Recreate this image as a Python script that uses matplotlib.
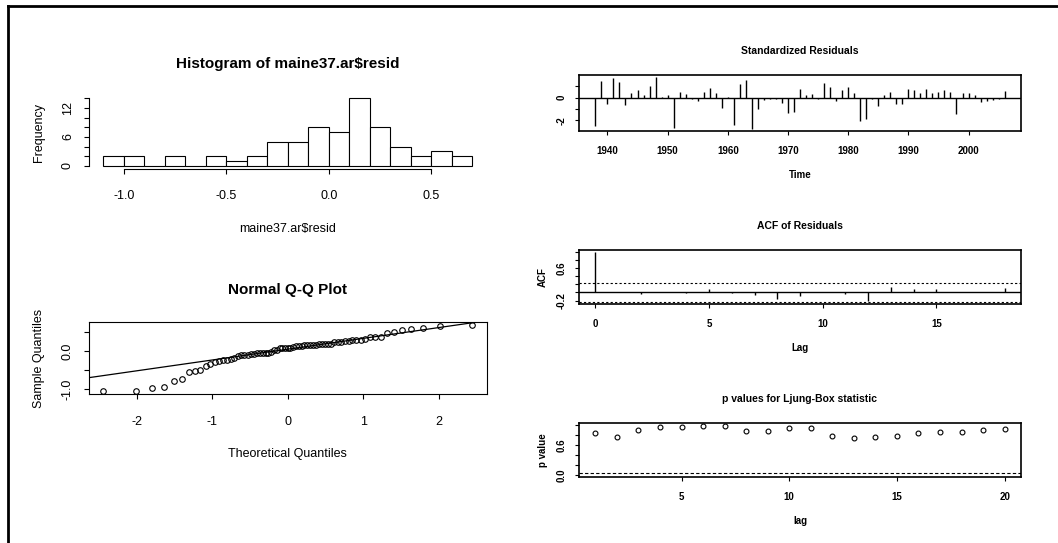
#%% Import libraries
import numpy as np
import matplotlib.pyplot as plt
from matplotlib.lines import Line2D
from statistics import NormalDist

#%% Data
years = np.arange(1938, 2007)
# AR residuals of maine37 in time order (1938..2006)
resid = [-0.95, 0.57, -0.21, 0.65, 0.54, -0.25, 0.16, 0.25, 0.08, 0.38,
         0.69, 0.02, 0.09, -1.03, 0.19, 0.13, -0.06, -0.11, 0.19, 0.32,
         0.15, -0.34, 0.03, -0.93, 0.47, 0.59, -1.05, -0.38, -0.08, -0.03,
         -0.04, -0.17, -0.51, -0.49, 0.28, 0.08, 0.12, -0.06, 0.49, 0.37,
         -0.11, 0.24, 0.36, 0.15, -0.78, -0.72, -0.04, -0.28, 0.09, 0.19,
         -0.23, -0.22, 0.29, 0.27, 0.17, 0.28, 0.14, 0.19, 0.26, 0.18,
         -0.55, 0.14, 0.17, 0.08, -0.14, -0.11, -0.08, -0.06, 0.23]
sigma = 0.38  # residual standard deviation used by tsdiag

hist_breaks = np.linspace(-1.1, 0.7, 19)

acf_lags = np.arange(0, 19)
acf_vals = [1.0, 0.01, -0.05, 0.0, -0.02, 0.08, -0.01, -0.06, -0.16, -0.10,
            0.02, -0.05, -0.20, 0.14, 0.08, 0.08, 0.02, 0.0, 0.10]

lb_lags = np.arange(1, 21)
lb_pvals = [0.84, 0.76, 0.90, 0.96, 0.96, 0.99, 0.99, 0.89, 0.89, 0.94,
            0.94, 0.79, 0.74, 0.76, 0.79, 0.84, 0.87, 0.87, 0.90, 0.92]

#%% Helpers
W, H = 1058, 543
def box(l, t, r, b): # pixel box -> figure fraction
    return [l / W, 1 - b / H, (r - l) / W, (b - t) / H]

def rlim(lo, hi): # R style 4% axis expansion
    d = (hi - lo) * 0.04
    return lo - d, hi + d

plt.rcParams['font.family'] = ['Liberation Sans', 'DejaVu Sans']
plt.rcParams['axes.unicode_minus'] = False # R prints a plain hyphen
fig = plt.figure(figsize=(W / 100, H / 100), dpi=100)

# outer frame of the scanned page
fig.add_artist(Line2D([8 / W, 8 / W], [0, 1 - 6 / H], color='black', lw=2, transform=fig.transFigure))
fig.add_artist(Line2D([8 / W, 1], [1 - 6 / H, 1 - 6 / H], color='black', lw=2, transform=fig.transFigure))

left_tick = dict(length=3.6, width=0.8, labelsize=9)
right_tick = dict(length=3, width=0.8, labelsize=7)

#%% Histogram
ax1 = fig.add_axes(box(88.7, 95.6, 486.8, 168.7))
ax1.hist(resid, bins=hist_breaks, color='white', edgecolor='black', lw=0.8)
ax1.set_xlim(rlim(-1.1, 0.7))
ax1.set_ylim(rlim(0, 14))
for s in ['top', 'right']:
    ax1.spines[s].set_visible(False)
ax1.spines['left'].set_bounds(0, 14)
ax1.spines['bottom'].set_bounds(-1.0, 0.5)
ax1.set_xticks([-1.0, -0.5, 0.0, 0.5], ['-1.0', '-0.5', '0.0', '0.5'])
ax1.set_yticks(np.arange(0, 15, 2), ['0', '', '', '6', '', '', '12', ''])
ax1.tick_params(axis='x', pad=12, **left_tick)
ax1.tick_params(axis='y', pad=7, labelrotation=90, **left_tick)
for t in ax1.get_yticklabels():
    t.set_va('center')
ax1.set_title('Histogram of maine37.ar$resid', fontsize=11, fontweight='bold', pad=20)
ax1.set_xlabel('maine37.ar$resid', fontsize=9, labelpad=15)
ax1.set_ylabel('Frequency', fontsize=9, labelpad=12)

#%% Normal Q-Q plot
n = len(resid)
theo = np.array([NormalDist().inv_cdf((i - 0.5) / n) for i in range(1, n + 1)])
samp = np.sort(resid)
ax2 = fig.add_axes(box(88.7, 322, 486.8, 394))
ax2.plot(theo, samp, 'o', mfc='none', mec='black', ms=4, mew=0.8)
q1, q3 = np.percentile(resid, [25, 75])
slope = (q3 - q1) / (NormalDist().inv_cdf(0.75) - NormalDist().inv_cdf(0.25))
icpt = q1 - slope * NormalDist().inv_cdf(0.25)
ax2.axline((0, icpt), slope=slope, color='black', lw=0.9)
ax2.set_xlim(rlim(theo.min(), theo.max()))
ax2.set_ylim(rlim(samp.min(), samp.max()))
ax2.set_xticks([-2, -1, 0, 1, 2])
ax2.set_yticks([-1.0, -0.5, 0.0, 0.5], ['-1.0', '', '0.0', ''])
ax2.tick_params(axis='x', pad=12, **left_tick)
ax2.tick_params(axis='y', pad=7, labelrotation=90, **left_tick)
for t in ax2.get_yticklabels():
    t.set_va('center')
ax2.set_title('Normal Q-Q Plot', fontsize=11, fontweight='bold', pad=20)
ax2.set_xlabel('Theoretical Quantiles', fontsize=9, labelpad=15)
ax2.set_ylabel('Sample Quantiles', fontsize=9, labelpad=12)

#%% Standardized residuals
stdres = np.array(resid) / sigma
ax3 = fig.add_axes(box(579, 75, 1021, 131))
ax3.vlines(years, 0, stdres, color='black', lw=1)
ax3.axhline(0, color='black', lw=1)
ax3.set_xlim(rlim(years.min(), years.max()))
ax3.set_ylim(rlim(stdres.min(), stdres.max()))
ax3.set_xticks(np.arange(1940, 2001, 10))
ax3.set_yticks([-2, -1, 0, 1], ['-2', '', '0', ''])
ax3.set_title('Standardized Residuals', fontsize=7.5, fontweight='bold', pad=15)
ax3.set_xlabel('Time', fontsize=7, fontweight='bold', labelpad=10)

#%% ACF of residuals
ci = 1.96 / np.sqrt(n)
ax4 = fig.add_axes(box(579, 250, 1021, 304))
ax4.vlines(acf_lags, 0, acf_vals, color='black', lw=1)
ax4.axhline(0, color='black', lw=1)
for c in [ci, -ci]:
    ax4.axhline(c, color='black', lw=0.8, ls=(0, (2, 2)))
ax4.set_xlim(rlim(0, 18))
ax4.set_ylim(rlim(-ci, 1.0))
ax4.set_xticks([0, 5, 10, 15])
ax4.set_yticks(np.arange(-0.2, 1.01, 0.2), ['-0.2', '', '', '', '0.6', '', ''])
ax4.set_title('ACF of Residuals', fontsize=7.5, fontweight='bold', pad=15)
ax4.set_xlabel('Lag', fontsize=7, fontweight='bold', labelpad=10)
ax4.set_ylabel('ACF', fontsize=7, fontweight='bold', labelpad=6)

#%% Ljung-Box p values
ax5 = fig.add_axes(box(579, 423, 1021, 477))
ax5.plot(lb_lags, lb_pvals, 'o', mfc='none', mec='black', ms=3.5, mew=0.8)
ax5.axhline(0.05, color='black', lw=0.8, ls=(0, (3, 2)))
ax5.set_xlim(rlim(1, 20))
ax5.set_ylim(rlim(0, 1))
ax5.set_xticks([5, 10, 15, 20])
ax5.set_yticks(np.arange(0, 1.01, 0.2), ['0.0', '', '', '0.6', '', ''])
ax5.set_title('p values for Ljung-Box statistic', fontsize=7.5, fontweight='bold', pad=15)
ax5.set_xlabel('lag', fontsize=7, fontweight='bold', labelpad=10)
ax5.set_ylabel('p value', fontsize=7, fontweight='bold', labelpad=6)

for ax in [ax3, ax4, ax5]:
    ax.tick_params(axis='x', pad=8, **right_tick)
    ax.tick_params(axis='y', pad=6, labelrotation=90, **right_tick)
    for t in ax.get_xticklabels() + ax.get_yticklabels():
        t.set_fontweight('bold')
    for t in ax.get_yticklabels():
        t.set_va('center')
    for s in ax.spines.values():
        s.set_linewidth(1.2)

plt.savefig('out.png', dpi=100)
